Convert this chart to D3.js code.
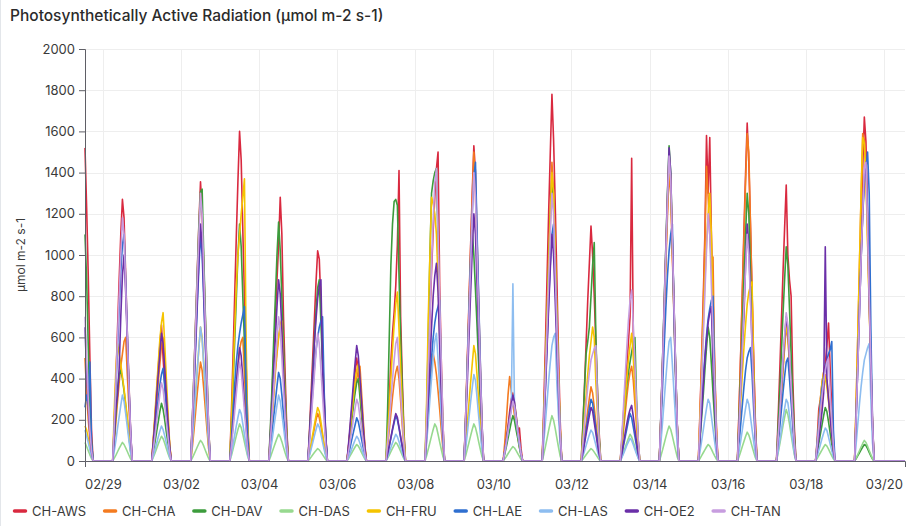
<!DOCTYPE html>
<html>
<head>
<meta charset="utf-8">
<script src="https://cdn.jsdelivr.net/npm/d3@7"></script>
<style>
  html, body { margin: 0; padding: 0; background: #fff; }
  svg { display: block; font-family: Inter, "Noto Sans", sans-serif; }
</style>
</head>
<body>
<svg id="chart" width="910" height="526"></svg>
<script>
// Stations and their line colours
const stations = ["CH-AWS", "CH-CHA", "CH-DAV", "CH-DAS", "CH-FRU", "CH-LAE", "CH-LAS", "CH-OE2", "CH-TAN"];
const colors = ["#d9293f", "#f47b20", "#3c9c3c", "#97d98f", "#f5c400", "#2f6fd0", "#8dbdf0", "#6a2fa8", "#c79ddf"];

// One row per day; each row holds hourly PAR, its last value at 17:00 (first day starts 13:00)
const dayLabels = ["02/28", "02/29", "03/01", "03/02", "03/03", "03/04", "03/05", "03/06", "03/07", "03/08", "03/09",
                   "03/10", "03/11", "03/12", "03/13", "03/14", "03/15", "03/16", "03/17", "03/18", "03/19"];
const xTickLabels = ["02/29", "03/02", "03/04", "03/06", "03/08", "03/10", "03/12", "03/14", "03/16", "03/18", "03/20"];
const yTicks = [0, 200, 400, 600, 800, 1000, 1200, 1400, 1600, 1800, 2000];

const AWS = [
  [1520, 1230, 900, 500, 150],
  [190, 400, 640, 880, 1100, 1270, 1180, 900, 620, 380, 150],
  [100, 210, 330, 450, 560, 660, 500, 380, 280, 180, 80],
  [200, 430, 680, 920, 1150, 1355, 1200, 950, 680, 400, 160],
  [240, 510, 800, 1090, 1360, 1600, 1460, 1120, 800, 480, 190],
  [150, 330, 520, 700, 880, 1050, 1280, 1100, 700, 420, 160],
  [150, 330, 510, 690, 870, 1020, 980, 760, 520, 310, 120],
  [75, 160, 250, 340, 430, 500, 440, 350, 250, 150, 60],
  [130, 300, 480, 620, 720, 850, 1050, 1410, 700, 400, 150],
  [200, 450, 700, 920, 1120, 1280, 1420, 1500, 850, 480, 180],
  [230, 490, 770, 1040, 1300, 1530, 1400, 1070, 760, 460, 180],
  [50, 110, 170, 240, 300, 330, 260, 200, 140, 160, 60],
  [270, 570, 890, 1210, 1500, 1780, 1560, 1250, 890, 530, 210],
  [170, 360, 570, 780, 960, 1140, 1000, 800, 570, 340, 140],
  [110, 230, 350, 460, 580, 700, 1470, 600, 420, 260, 100],
  [220, 460, 720, 990, 1230, 1450, 1350, 1020, 730, 440, 170],
  [240, 500, 790, 1100, 1580, 1300, 1570, 1100, 790, 470, 190],
  [250, 520, 820, 1120, 1390, 1640, 1450, 1150, 820, 490, 200],
  [200, 430, 670, 910, 1130, 1340, 1000, 880, 800, 400, 160],
  [100, 250, 300, 380, 430, 470, 560, 670, 450, 250, 90],
  [250, 530, 840, 1140, 1420, 1670, 1550, 1170, 840, 500, 200]
];
const CHA = [
  [500, 330, 200, 110, 40],
  [90, 190, 290, 380, 460, 520, 580, 600, 420, 260, 100],
  [90, 190, 290, 380, 470, 560, 600, 470, 330, 200, 80],
  [70, 150, 240, 330, 410, 480, 440, 350, 250, 150, 60],
  [90, 190, 290, 380, 460, 540, 580, 600, 420, 250, 90],
  [100, 210, 320, 430, 520, 600, 650, 690, 480, 290, 110],
  [35, 75, 115, 160, 200, 230, 210, 170, 120, 70, 30],
  [70, 150, 220, 290, 350, 400, 440, 460, 330, 200, 80],
  [70, 150, 230, 310, 380, 430, 460, 400, 290, 170, 70],
  [110, 240, 360, 460, 520, 480, 420, 340, 250, 150, 60],
  [230, 480, 750, 1020, 1270, 1500, 1300, 980, 700, 420, 160],
  [90, 200, 320, 410, 340, 280, 220, 170, 120, 70, 30],
  [220, 460, 720, 990, 1230, 1450, 1300, 1010, 720, 430, 170],
  [55, 115, 180, 245, 305, 360, 330, 260, 185, 110, 45],
  [70, 150, 230, 310, 380, 430, 460, 390, 280, 170, 70],
  [210, 450, 700, 950, 1190, 1400, 1300, 1000, 700, 420, 170],
  [220, 470, 740, 1050, 1430, 1280, 1100, 950, 990, 450, 150],
  [240, 510, 800, 1080, 1350, 1590, 1500, 1150, 810, 480, 190],
  [100, 210, 320, 440, 550, 650, 600, 470, 330, 200, 80],
  [65, 135, 210, 285, 355, 420, 390, 310, 220, 130, 50],
  [290, 610, 950, 1290, 1590, 1560, 1400, 1080, 760, 460, 180]
];
const DAV = [
  [1100, 880, 560, 260, 90],
  [110, 230, 350, 420, 440, 400, 340, 270, 200, 120, 50],
  [42, 90, 140, 190, 240, 280, 250, 200, 140, 85, 35],
  [200, 430, 670, 900, 1140, 1306, 1320, 990, 700, 420, 160],
  [175, 370, 580, 790, 1000, 1150, 1040, 800, 570, 340, 140],
  [175, 370, 590, 790, 1000, 1160, 1020, 790, 560, 340, 140],
  [130, 280, 440, 590, 730, 840, 880, 670, 470, 280, 110],
  [60, 130, 200, 270, 330, 380, 400, 310, 220, 130, 50],
  [250, 600, 950, 1150, 1260, 1270, 1240, 900, 600, 350, 130],
  [250, 600, 1000, 1300, 1360, 1400, 1420, 1050, 720, 420, 160],
  [200, 450, 700, 950, 1120, 1000, 830, 650, 460, 280, 110],
  [35, 70, 110, 150, 190, 220, 195, 150, 110, 65, 25],
  [210, 440, 690, 940, 1170, 1380, 1260, 970, 690, 410, 160],
  [160, 350, 520, 580, 650, 800, 950, 1060, 600, 330, 120],
  [90, 190, 290, 370, 430, 480, 530, 570, 600, 300, 100],
  [230, 490, 770, 1040, 1300, 1530, 1400, 1070, 760, 460, 180],
  [100, 210, 320, 440, 550, 650, 600, 470, 330, 200, 80],
  [200, 420, 650, 880, 1100, 1300, 1200, 920, 650, 390, 160],
  [160, 330, 520, 710, 880, 1040, 950, 740, 520, 310, 125],
  [40, 85, 130, 175, 220, 260, 240, 190, 135, 80, 32],
  [12, 26, 40, 54, 68, 80, 75, 60, 42, 25, 10]
];
const DAS = [
  [90, 70, 50, 30, 12],
  [14, 29, 45, 61, 76, 90, 80, 64, 46, 28, 11],
  [18, 38, 60, 82, 102, 120, 108, 86, 61, 37, 15],
  [15, 32, 50, 68, 85, 100, 90, 72, 51, 31, 12],
  [27, 58, 90, 122, 153, 180, 162, 130, 92, 56, 22],
  [20, 42, 65, 88, 110, 130, 117, 94, 66, 40, 16],
  [9, 19, 30, 41, 51, 60, 54, 43, 31, 19, 7],
  [12, 26, 40, 54, 68, 80, 72, 58, 41, 25, 10],
  [14, 29, 45, 61, 76, 90, 81, 65, 46, 28, 11],
  [27, 58, 90, 122, 153, 180, 165, 130, 92, 56, 22],
  [27, 58, 90, 122, 153, 180, 162, 130, 92, 56, 22],
  [11, 22, 35, 48, 60, 70, 63, 50, 36, 22, 8],
  [33, 70, 110, 150, 187, 220, 198, 158, 112, 68, 26],
  [9, 19, 30, 41, 51, 60, 54, 43, 31, 19, 7],
  [20, 42, 65, 88, 110, 130, 117, 94, 66, 40, 16],
  [26, 54, 85, 116, 145, 170, 153, 122, 87, 53, 20],
  [12, 26, 40, 54, 68, 80, 72, 58, 41, 25, 10],
  [21, 45, 70, 95, 119, 140, 126, 101, 71, 43, 17],
  [38, 80, 125, 170, 212, 250, 225, 180, 128, 78, 30],
  [12, 26, 40, 54, 68, 80, 72, 58, 41, 25, 10],
  [15, 32, 50, 68, 85, 100, 90, 72, 51, 31, 12]
];
const FRU = [
  [170, 150, 110, 70, 25],
  [250, 450, 570, 520, 470, 410, 350, 280, 210, 130, 50],
  [110, 230, 350, 470, 590, 670, 720, 570, 400, 240, 90],
  [100, 210, 330, 440, 550, 650, 600, 470, 330, 200, 80],
  [200, 420, 640, 850, 1000, 1100, 1200, 1280, 1370, 600, 170],
  [100, 220, 340, 450, 540, 610, 650, 680, 480, 290, 110],
  [40, 85, 130, 175, 220, 260, 240, 190, 135, 80, 32],
  [70, 150, 230, 310, 390, 440, 470, 380, 270, 160, 65],
  [125, 260, 400, 540, 660, 760, 820, 640, 450, 270, 105],
  [300, 700, 1000, 1280, 1250, 1200, 1100, 880, 620, 370, 140],
  [85, 180, 280, 380, 470, 560, 520, 410, 290, 175, 70],
  [47, 100, 155, 210, 260, 310, 280, 220, 155, 95, 37],
  [210, 450, 700, 950, 1190, 1400, 1300, 1000, 710, 430, 170],
  [100, 210, 320, 420, 510, 580, 650, 600, 380, 220, 85],
  [95, 200, 300, 400, 490, 560, 620, 500, 350, 210, 80],
  [220, 470, 740, 1000, 1260, 1480, 1360, 1040, 740, 440, 175],
  [195, 420, 650, 870, 1060, 1200, 1300, 1100, 700, 420, 160],
  [130, 280, 420, 550, 660, 760, 820, 850, 870, 400, 130],
  [100, 210, 330, 450, 560, 660, 610, 480, 340, 200, 80],
  [80, 190, 300, 380, 430, 400, 360, 290, 210, 130, 50],
  [290, 610, 950, 1280, 1570, 1540, 1380, 1060, 750, 450, 175]
];
const LAE = [
  [260, 320, 280, 480, 90],
  [165, 350, 550, 740, 920, 1050, 1100, 880, 620, 370, 145],
  [70, 145, 225, 300, 370, 420, 450, 360, 255, 155, 60],
  [165, 350, 550, 750, 940, 1100, 1000, 780, 550, 330, 130],
  [110, 240, 370, 480, 560, 620, 670, 710, 750, 380, 120],
  [65, 140, 215, 290, 365, 430, 400, 320, 225, 135, 55],
  [105, 220, 340, 450, 540, 600, 650, 680, 700, 340, 110],
  [32, 68, 105, 140, 175, 210, 190, 150, 105, 65, 25],
  [33, 70, 110, 150, 185, 220, 200, 160, 112, 68, 27],
  [120, 250, 380, 500, 600, 670, 720, 750, 780, 380, 120],
  [215, 460, 720, 980, 1200, 1380, 1450, 1100, 780, 470, 185],
  [45, 95, 150, 205, 260, 300, 265, 205, 145, 88, 35],
  [170, 365, 570, 780, 960, 1100, 1150, 900, 640, 380, 150],
  [45, 95, 150, 205, 255, 300, 280, 220, 155, 95, 37],
  [35, 75, 115, 155, 195, 230, 210, 165, 118, 72, 28],
  [170, 360, 560, 740, 900, 1020, 1100, 1150, 700, 400, 150],
  [120, 255, 390, 510, 610, 690, 740, 780, 800, 400, 130],
  [85, 175, 270, 360, 440, 500, 530, 550, 420, 250, 95],
  [75, 160, 245, 330, 410, 480, 500, 400, 285, 170, 68],
  [85, 180, 280, 350, 410, 450, 490, 520, 540, 580, 150],
  [220, 470, 730, 980, 1190, 1350, 1420, 1500, 1300, 650, 200]
];
const LAS = [
  [150, 120, 90, 55, 20],
  [48, 100, 160, 215, 270, 320, 290, 230, 165, 100, 40],
  [26, 54, 85, 115, 145, 170, 152, 122, 87, 53, 21],
  [98, 210, 325, 440, 550, 650, 590, 465, 330, 200, 80],
  [38, 80, 125, 170, 212, 250, 230, 180, 128, 78, 30],
  [48, 100, 160, 215, 270, 320, 290, 230, 165, 100, 40],
  [27, 58, 90, 122, 153, 180, 165, 130, 92, 56, 22],
  [18, 38, 60, 82, 102, 120, 108, 86, 61, 37, 15],
  [20, 42, 65, 88, 110, 130, 118, 94, 66, 40, 16],
  [90, 190, 300, 400, 500, 580, 620, 490, 350, 210, 82],
  [63, 135, 210, 285, 355, 420, 390, 305, 215, 130, 52],
  [40, 90, 140, 200, 260, 860, 250, 190, 135, 80, 30],
  [90, 190, 290, 390, 480, 560, 600, 620, 380, 220, 85],
  [23, 48, 75, 102, 128, 150, 138, 108, 77, 47, 18],
  [17, 35, 55, 75, 93, 110, 100, 79, 56, 34, 13],
  [90, 190, 295, 400, 500, 580, 600, 470, 335, 200, 80],
  [45, 96, 150, 204, 255, 300, 280, 218, 155, 94, 37],
  [45, 96, 150, 204, 255, 300, 275, 215, 153, 93, 36],
  [45, 96, 150, 204, 255, 300, 282, 222, 157, 95, 38],
  [24, 51, 80, 109, 136, 160, 148, 116, 82, 50, 20],
  [85, 180, 275, 360, 430, 490, 520, 550, 570, 300, 90]
];
const OE2 = [
  [650, 430, 260, 130, 45],
  [120, 260, 320, 450, 700, 900, 1000, 820, 580, 350, 135],
  [95, 200, 310, 420, 520, 620, 570, 450, 320, 190, 75],
  [175, 370, 580, 780, 980, 1150, 1050, 820, 580, 350, 140],
  [85, 175, 275, 375, 465, 550, 510, 400, 285, 170, 68],
  [130, 280, 440, 600, 750, 880, 810, 640, 450, 270, 108],
  [130, 280, 430, 570, 690, 790, 850, 880, 450, 270, 105],
  [85, 180, 280, 380, 475, 560, 510, 400, 285, 170, 68],
  [35, 74, 115, 156, 195, 230, 212, 166, 118, 72, 28],
  [145, 310, 480, 650, 800, 900, 960, 820, 550, 330, 130],
  [180, 385, 600, 815, 1020, 1200, 1100, 850, 605, 365, 145],
  [48, 102, 160, 218, 272, 320, 285, 220, 155, 95, 37],
  [165, 350, 550, 750, 935, 1100, 1000, 780, 555, 335, 132],
  [40, 84, 130, 176, 220, 260, 242, 188, 134, 81, 32],
  [40, 86, 135, 180, 220, 250, 270, 215, 152, 92, 36],
  [230, 490, 760, 1030, 1290, 1520, 1400, 1080, 770, 460, 180],
  [115, 240, 370, 490, 590, 670, 720, 750, 470, 280, 110],
  [170, 360, 560, 700, 950, 1150, 1050, 800, 570, 340, 135],
  [105, 225, 350, 475, 595, 700, 640, 500, 355, 215, 85],
  [50, 110, 170, 240, 330, 1040, 400, 300, 210, 125, 48],
  [220, 465, 720, 980, 1200, 1380, 1450, 1200, 780, 460, 180]
];
const TAN = [
  [700, 500, 300, 150, 50],
  [178, 375, 590, 800, 1000, 1180, 1100, 850, 600, 360, 142],
  [57, 122, 190, 258, 323, 380, 350, 272, 194, 117, 46],
  [195, 415, 650, 885, 1100, 1300, 1200, 920, 655, 395, 155],
  [72, 154, 240, 326, 408, 480, 440, 343, 244, 147, 58],
  [105, 225, 350, 475, 595, 700, 640, 500, 355, 215, 85],
  [93, 198, 310, 420, 527, 620, 570, 443, 315, 190, 75],
  [45, 96, 150, 204, 255, 300, 275, 214, 152, 92, 36],
  [90, 190, 295, 395, 490, 570, 600, 470, 335, 200, 80],
  [215, 455, 705, 950, 1170, 1350, 1420, 1100, 780, 470, 185],
  [210, 450, 700, 950, 1190, 1400, 1280, 990, 705, 425, 168],
  [44, 93, 145, 197, 246, 290, 265, 207, 147, 89, 35],
  [195, 415, 650, 885, 1100, 1300, 1200, 920, 655, 395, 155],
  [85, 180, 275, 360, 430, 490, 520, 545, 560, 280, 90],
  [125, 265, 410, 550, 680, 780, 830, 660, 470, 280, 110],
  [222, 473, 740, 1006, 1258, 1480, 1360, 1060, 755, 455, 180],
  [180, 384, 600, 816, 1020, 1200, 1100, 855, 610, 367, 145],
  [165, 352, 550, 748, 935, 1100, 1000, 780, 555, 335, 132],
  [108, 230, 360, 490, 612, 720, 660, 515, 366, 220, 87],
  [75, 160, 245, 320, 385, 440, 480, 500, 330, 195, 75],
  [218, 464, 720, 980, 1200, 1420, 1450, 1130, 800, 480, 190]
];
const seriesRows = [AWS, CHA, DAV, DAS, FRU, LAE, LAS, OE2, TAN];

// ---- layout ----
const W = 910, H = 526;
const margin = { left: 85, right: 5, top: 49, bottom: 65 };
const svg = d3.select("#chart");

const parseDay = d3.utcParse("%Y/%m/%d");
const t0 = new Date(Date.UTC(2024, 1, 28, 13));
const t1 = new Date(Date.UTC(2024, 2, 20, 13));
const hours = d3.utcHour.range(t0, d3.utcHour.offset(t1, 1));

const x = d3.scaleUtc().domain([t0, t1]).range([margin.left, W - margin.right]);
const y = d3.scaleLinear().domain([0, 2000]).range([H - margin.bottom, margin.top]);

// build the hourly series: daylight rows placed on their hours, nights at zero
const series = stations.map((name, si) => {
  const byTime = new Map();
  seriesRows[si].forEach((row, di) => {
    const day = parseDay("2024/" + dayLabels[di]);
    const firstHour = 18 - row.length;
    row.forEach((v, k) => byTime.set(+d3.utcHour.offset(day, firstHour + k), v));
  });
  return { name, color: colors[si], values: hours.map(t => ({ t, v: byTime.has(+t) ? byTime.get(+t) : 0 })) };
});

// title
svg.append("text")
  .attr("x", 10).attr("y", 21)
  .attr("font-size", 15.5).attr("font-weight", 500).attr("fill", "#2b2b2b")
  .text("Photosynthetically Active Radiation (µmol m-2 s-1)");

// grid
const xTicks = xTickLabels.map(s => parseDay("2024/" + s));
const grid = svg.append("g").attr("stroke", "#eeeeee").attr("stroke-width", 1);
grid.selectAll("line.h").data(yTicks.slice(1)).join("line")
  .attr("x1", margin.left).attr("x2", W - margin.right)
  .attr("y1", d => Math.round(y(d)) + 0.5).attr("y2", d => Math.round(y(d)) + 0.5);
grid.selectAll("line.v").data(xTicks).join("line")
  .attr("y1", margin.top).attr("y2", H - margin.bottom)
  .attr("x1", d => Math.round(x(d)) + 0.5).attr("x2", d => Math.round(x(d)) + 0.5);

// lines
const line = d3.line().x(d => x(d.t)).y(d => y(d.v));
svg.append("g").attr("fill", "none").attr("stroke-width", 1.6).attr("stroke-linejoin", "round")
  .selectAll("path").data(series).join("path")
  .attr("stroke", d => d.color)
  .attr("d", d => line(d.values));

// axes
const yAxis = svg.append("g").attr("transform", `translate(${margin.left},0)`)
  .call(d3.axisLeft(y).tickValues(yTicks).tickFormat(d3.format("d")).tickSize(6).tickPadding(4));
const xAxis = svg.append("g").attr("transform", `translate(0,${H - margin.bottom})`)
  .call(d3.axisBottom(x).tickValues(xTicks).tickFormat(d3.utcFormat("%m/%d")).tickSizeInner(0).tickSizeOuter(6).tickPadding(19));
[yAxis, xAxis].forEach(a => {
  a.selectAll("path,line").attr("stroke", "#5f5f66");
  a.selectAll("text").attr("fill", "#3a3a3a").attr("font-size", 13).attr("font-family", "Inter, 'Noto Sans', sans-serif");
});

// y axis title
svg.append("text")
  .attr("transform", `translate(25,${(margin.top + H - margin.bottom) / 2}) rotate(-90)`)
  .attr("text-anchor", "middle").attr("font-size", 12).attr("fill", "#3a3a3a")
  .text("µmol m-2 s-1");

// legend
const legend = svg.append("g").attr("transform", "translate(13,511)");
let lx = 0;
stations.forEach((name, i) => {
  const g = legend.append("g").attr("transform", `translate(${lx},0)`);
  g.append("line").attr("x1", 1.5).attr("x2", 12.5).attr("y1", 0).attr("y2", 0)
    .attr("stroke", colors[i]).attr("stroke-width", 3.5).attr("stroke-linecap", "round");
  const t = g.append("text").attr("x", 19).attr("y", 4.5).attr("font-size", 13).attr("fill", "#3a3a3a").text(name);
  lx += 19 + t.node().getComputedTextLength() + 17;
});

// card edge
svg.append("line").attr("x1", 0.5).attr("x2", 0.5).attr("y1", 0).attr("y2", H).attr("stroke", "#e3e6ea");
</script>
</body>
</html>
